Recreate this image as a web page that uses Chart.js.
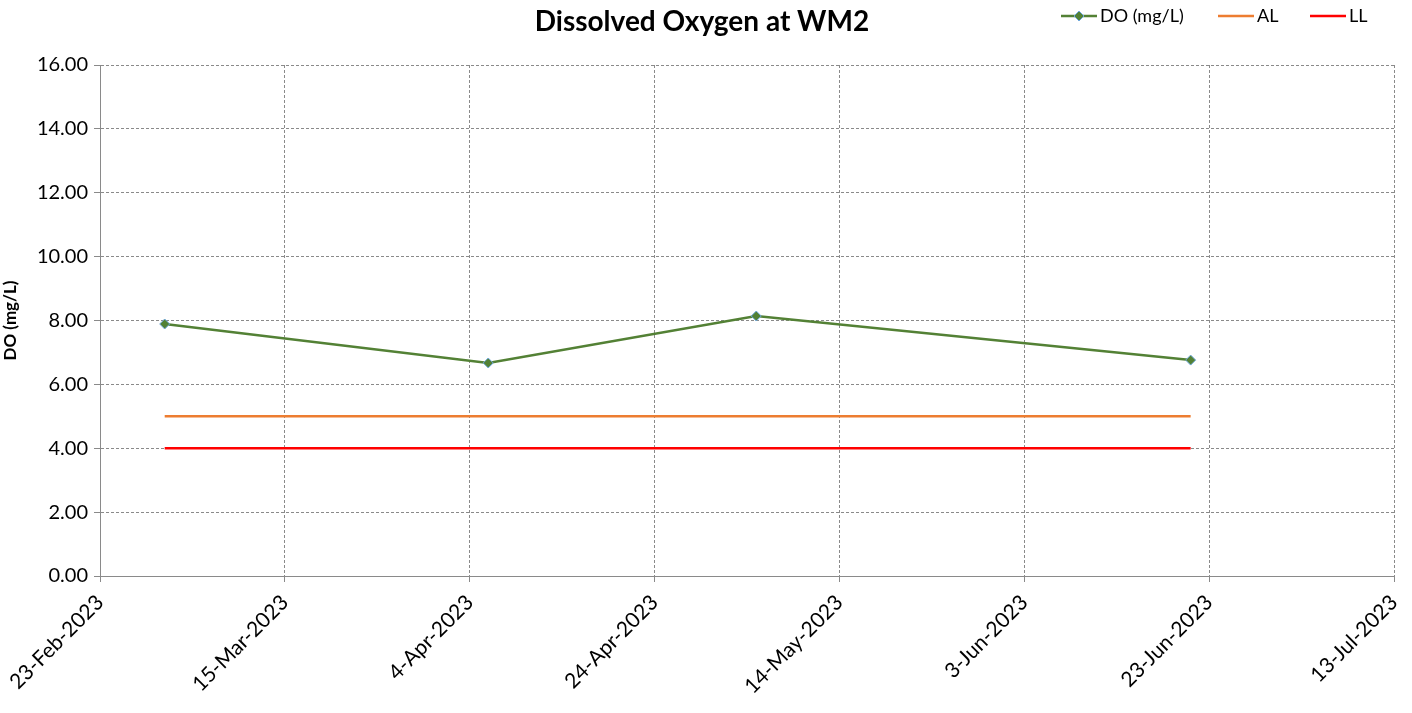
<!DOCTYPE html>
<html>
<head>
<meta charset="utf-8">
<script src="https://cdn.jsdelivr.net/npm/chart.js@4.4.1/dist/chart.umd.min.js"></script>
<style>
  html, body { margin: 0; padding: 0; background: #fff; }
  #wrap { width: 1412px; height: 713px; position: relative; }
</style>
</head>
<body>
<div id="wrap"><canvas id="c"></canvas></div>
<script>
const sampleDates = ['2023-03-02', '2023-04-06', '2023-05-05', '2023-06-21'];
const doValues = [7.89, 6.67, 8.14, 6.76];
const alValues = [5, 5, 5, 5];
const llValues = [4, 4, 4, 4];
const xStart = '2023-02-23';
const xEnd = '2023-07-13';
const months = ['Jan','Feb','Mar','Apr','May','Jun','Jul','Aug','Sep','Oct','Nov','Dec'];

const FONT = 'Lato, "Open Sans", sans-serif';
const dayOf = s => Math.round(Date.parse(s + 'T00:00:00Z') / 86400000);
const fmtDay = d => {
  const dt = new Date(d * 86400000);
  return dt.getUTCDate() + '-' + months[dt.getUTCMonth()] + '-' + dt.getUTCFullYear();
};
const pts = vals => sampleDates.map((s, i) => ({ x: dayOf(s), y: vals[i] }));

const GREEN = '#538135';
const ORANGE = '#ED7D31';
const RED = '#FF0000';

const decor = {
  id: 'decor',
  afterDraw(chart) {
    const ctx = chart.ctx;
    ctx.save();
    ctx.fillStyle = '#000';
    ctx.font = 'bold 28px ' + FONT;
    ctx.textAlign = 'center';
    ctx.textBaseline = 'middle';
    ctx.fillText('Dissolved Oxygen at WM2', 702, 22);

    // legend
    ctx.font = '18px ' + FONT;
    ctx.textAlign = 'left';
    const items = [
      { x: 1061, color: GREEN, text: 'DO (mg/L)', marker: true },
      { x: 1218, color: ORANGE, text: 'AL' },
      { x: 1310, color: RED, text: 'LL' }
    ];
    items.forEach(it => {
      ctx.strokeStyle = it.color;
      ctx.lineWidth = 2.5;
      ctx.beginPath();
      ctx.moveTo(it.x, 16);
      ctx.lineTo(it.x + 36, 16);
      ctx.stroke();
      if (it.marker) {
        const cx = it.x + 18;
        ctx.fillStyle = GREEN;
        ctx.strokeStyle = '#6FA8DC';
        ctx.lineWidth = 1;
        ctx.beginPath();
        ctx.moveTo(cx, 11); ctx.lineTo(cx + 5, 16); ctx.lineTo(cx, 21); ctx.lineTo(cx - 5, 16);
        ctx.closePath();
        ctx.fill(); ctx.stroke();
      }
      ctx.fillStyle = '#000';
      ctx.fillText(it.text, it.x + 39, 16);
    });
    ctx.restore();
  }
};

new Chart(document.getElementById('c'), {
  type: 'line',
  data: {
    datasets: [
      {
        label: 'DO (mg/L)', data: pts(doValues), borderColor: GREEN, borderWidth: 2.5,
        pointStyle: 'rectRot', pointRadius: 5, pointBackgroundColor: GREEN,
        pointBorderColor: '#6FA8DC', pointBorderWidth: 1, tension: 0
      },
      { label: 'AL', data: pts(alValues), borderColor: ORANGE, borderWidth: 2.5, pointRadius: 0 },
      { label: 'LL', data: pts(llValues), borderColor: RED, borderWidth: 2.5, pointRadius: 0 }
    ]
  },
  options: {
    responsive: true,
    maintainAspectRatio: false,
    animation: false,
    layout: { padding: { top: 65, right: 18, left: 0, bottom: 0 } },
    plugins: { legend: { display: false }, tooltip: { enabled: false } },
    scales: {
      x: {
        type: 'linear',
        min: dayOf(xStart),
        max: dayOf(xEnd),
        afterFit(s) { s.height = 137; s.paddingLeft = 0; s.paddingRight = 0; },
        ticks: {
          stepSize: 20, autoSkip: false, minRotation: 45, maxRotation: 45,
          color: '#000', font: { family: FONT, size: 21 }, padding: 8,
          callback: v => fmtDay(v)
        },
        grid: { color: '#8a8a8a', lineWidth: 1, tickLength: 6, tickColor: '#8a8a8a', tickBorderDash: [], drawTicks: true },
        border: { color: '#8a8a8a', width: 1, dash: [3, 2] }
      },
      y: {
        min: 0, max: 16,
        afterFit(s) { s.width = 100; s.paddingTop = 0; s.paddingBottom = 0; },
        ticks: {
          stepSize: 2, color: '#000', font: { family: FONT, size: 20 }, padding: 6,
          callback: v => v.toFixed(2)
        },
        title: { display: true, text: 'DO (mg/L)', color: '#000', font: { family: FONT, size: 17, weight: 'bold' }, padding: 0 },
        grid: { color: '#8a8a8a', lineWidth: 1, tickLength: 6, tickColor: '#8a8a8a', tickBorderDash: [] },
        border: { color: '#8a8a8a', width: 1, dash: [3, 2] }
      }
    }
  },
  plugins: [decor]
});
</script>
</body>
</html>
